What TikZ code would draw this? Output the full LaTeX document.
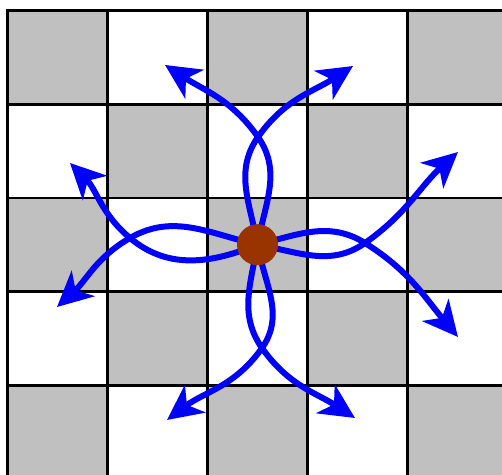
\documentclass[tikz,border=0pt]{standalone}
\usetikzlibrary{arrows.meta}
\definecolor{boardgray}{RGB}{192,192,192}
\definecolor{hubbrown}{RGB}{153,51,0}

\begin{document}
\begin{tikzpicture}[x=1pt, y=1pt,
    gridline/.style={line width=2.6pt, draw=black, line cap=rect},
    darkcell/.style={fill=boardgray},
    flow/.style={line width=6pt, draw=blue, line join=round,
                 -{Stealth[length=35pt, width=34pt, inset=10pt]}},
    hub/.style={circle, fill=hubbrown, minimum size=41pt, inner sep=0pt}
]
    % Page frame, the board runs past the right and bottom edge
    \useasboundingbox (-257.5,-229.3) rectangle (244.5,244.7);
    \clip (-257.5,-229.3) rectangle (244.5,244.7);

    % Checkerboard cells
    \foreach \i in {0,...,4}
      \foreach \j in {0,...,4} {
        \pgfmathtruncatemacro{\cellodd}{mod(\i+\j,2)}
        \ifnum\cellodd=0
          \fill[darkcell] (-250+100*\i,-234.3+93.7*\j) rectangle ++(100,93.7);
        \fi
      }

    % Board lines
    \foreach \i in {0,...,5}
      \draw[gridline] (-250+100*\i,-234.3) -- (-250+100*\i,234.3);
    \foreach \j in {0,...,5}
      \draw[gridline] (-250,-234.3+93.7*\j) -- (250,-234.3+93.7*\j);

    % Source point and loop crossings
    \coordinate (src) at (0,0);
    \coordinate (xup) at (0.5,107.7);
    \coordinate (xdown) at (4.5,-103.3);
    \coordinate (xleft) at (-127.5,6.7);
    \coordinate (xright) at (107.5,1.7);

    % Arrow ends
    \coordinate (upl) at (-92.5,179.7);
    \coordinate (upr) at (95.5,178.7);
    \coordinate (downl) at (-90.5,-175.3);
    \coordinate (downr) at (97.5,-173.3);
    \coordinate (leftu) at (-187.5,81.7);
    \coordinate (leftd) at (-200.5,-62.3);
    \coordinate (rightu) at (200.5,92.7);
    \coordinate (rightd) at (200.5,-92.3);

    % Flows out of the source
    \draw[flow] (src) to[out=100,in=235] (xup) to[out=55,in=213] (upr);
    \draw[flow] (src) to[out=80,in=305] (xup) to[out=125,in=327] (upl);
    \draw[flow] (src) to[out=260,in=125] (xdown) to[out=305,in=147] (downr);
    \draw[flow] (src) to[out=280,in=55] (xdown) to[out=235,in=37] (downl);
    \draw[flow] (src) to[out=167,in=30] (xleft) to[out=210,in=42] (leftd);
    \draw[flow] (src) to[out=202,in=320] (xleft) to[out=140,in=315] (leftu);
    \draw[flow] (src) to[out=14,in=148] (xright) to[out=-32,in=130] (rightd);
    \draw[flow] (src) to[out=-10,in=215] (xright) to[out=35,in=222] (rightu);

    % Source
    \node[hub] (hub) at (src) {};
\end{tikzpicture}
\end{document}
